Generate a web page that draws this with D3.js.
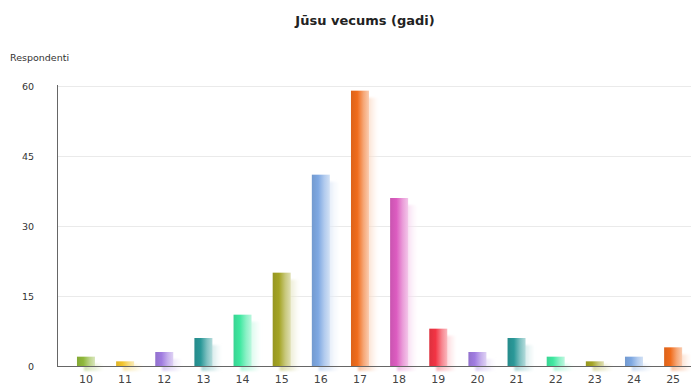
<!DOCTYPE html>
<html><head><meta charset="utf-8">
<script src="https://cdn.jsdelivr.net/npm/d3@7"></script>
<style>body{margin:0;background:#fff}svg{display:block}</style>
</head><body>
<svg id="c" width="691" height="389"></svg>
<script>
const categories = ["10","11","12","13","14","15","16","17","18","19","20","21","22","23","24","25"];
const values = [2,1,3,6,11,20,41,59,36,8,3,6,2,1,2,4];
const colors = ["#8fb83a","#f2c42c","#a07ce0","#2a9898","#3ee8a0","#a4a424","#7ea8e2","#f06c1c","#dc5cc0","#f23444","#a07ce0","#2a9898","#3ee8a0","#a4a424","#7ea8e2","#f06c1c"];
const yTicks = [0,15,30,45,60];
const title = "Jūsu vecums (gadi)";
const yTitle = "Respondenti";

const svg = d3.select("#c");
const x = d3.scaleBand().domain(categories).range([66.4, 692.7]).paddingInner(0.54).paddingOuter(0.27);
const y = d3.scaleLinear().domain([0,60]).range([366, 86]);
const defs = svg.append("defs");
const mixW = (c,t)=>d3.interpolateRgb(c,"#ffffff")(t);

categories.forEach((c,i)=>{
  const col = colors[i];
  const g = defs.append("linearGradient").attr("id","g"+i).attr("x1",0).attr("x2",1).attr("y1",0).attr("y2",0);
  g.append("stop").attr("offset","0%").attr("stop-color",d3.color(col).darker(0.25));
  g.append("stop").attr("offset","35%").attr("stop-color",col);
  g.append("stop").attr("offset","70%").attr("stop-color",mixW(col,0.4));
  g.append("stop").attr("offset","100%").attr("stop-color",mixW(col,0.65));
  const s = defs.append("linearGradient").attr("id","s"+i).attr("x1",0).attr("x2",1).attr("y1",0).attr("y2",0);
  s.append("stop").attr("offset","0%").attr("stop-color",mixW(col,0.6)).attr("stop-opacity",1);
  s.append("stop").attr("offset","60%").attr("stop-color",mixW(col,0.75)).attr("stop-opacity",0.6);
  s.append("stop").attr("offset","100%").attr("stop-color",mixW(col,0.9)).attr("stop-opacity",0.0);
});
const f = defs.append("filter").attr("id","blur").attr("x","-50%").attr("y","-20%").attr("width","200%").attr("height","140%");
f.append("feGaussianBlur").attr("stdDeviation",1.2);

// title
svg.append("text").attr("x",365).attr("y",25).attr("text-anchor","middle")
  .attr("font-family","'DejaVu Sans', sans-serif").attr("font-weight","bold").attr("font-size",13)
  .attr("fill","#222").text(title);
svg.append("text").attr("x",10).attr("y",61)
  .attr("font-family","'DejaVu Sans', sans-serif").attr("font-size",9.5).attr("fill","#333").text(yTitle);

// grid
svg.append("g").selectAll("line").data(yTicks.filter(d=>d>0)).join("line")
  .attr("x1",58).attr("x2",691).attr("y1",d=>y(d)+0.5).attr("y2",d=>y(d)+0.5)
  .attr("stroke","#eaeaea");

// y labels
svg.append("g").selectAll("text").data(yTicks).join("text")
  .attr("x",34).attr("y",d=>y(d)+3.5).attr("text-anchor","end")
  .attr("font-family","'DejaVu Sans', sans-serif").attr("font-size",9.5).attr("fill","#333").text(d=>d);

// shadows
svg.append("g").attr("filter","url(#blur)").selectAll("rect").data(values).join("rect")
  .attr("x",(d,i)=>x(categories[i])+7).attr("width",x.bandwidth()+3)
  .attr("y",d=>Math.min(y(d)+7,364)).attr("height",d=>366-Math.min(y(d)+7,364)+5)
  .attr("fill",(d,i)=>`url(#s${i})`);

// bars
svg.append("g").selectAll("rect").data(values).join("rect")
  .attr("x",(d,i)=>x(categories[i])).attr("width",x.bandwidth())
  .attr("y",d=>y(d)).attr("height",d=>366-y(d))
  .attr("fill",(d,i)=>`url(#g${i})`);

// axes lines
svg.append("line").attr("x1",57.5).attr("x2",57.5).attr("y1",85).attr("y2",366).attr("stroke","#666");
svg.append("line").attr("x1",57).attr("x2",691).attr("y1",366.5).attr("y2",366.5).attr("stroke","#666");

// x labels
svg.append("g").selectAll("text").data(categories).join("text")
  .attr("x",d=>x(d)+x.bandwidth()/2).attr("y",383).attr("text-anchor","middle")
  .attr("font-family","'DejaVu Sans', sans-serif").attr("font-size",11).attr("fill","#444").text(d=>d);
</script>
</body></html>
